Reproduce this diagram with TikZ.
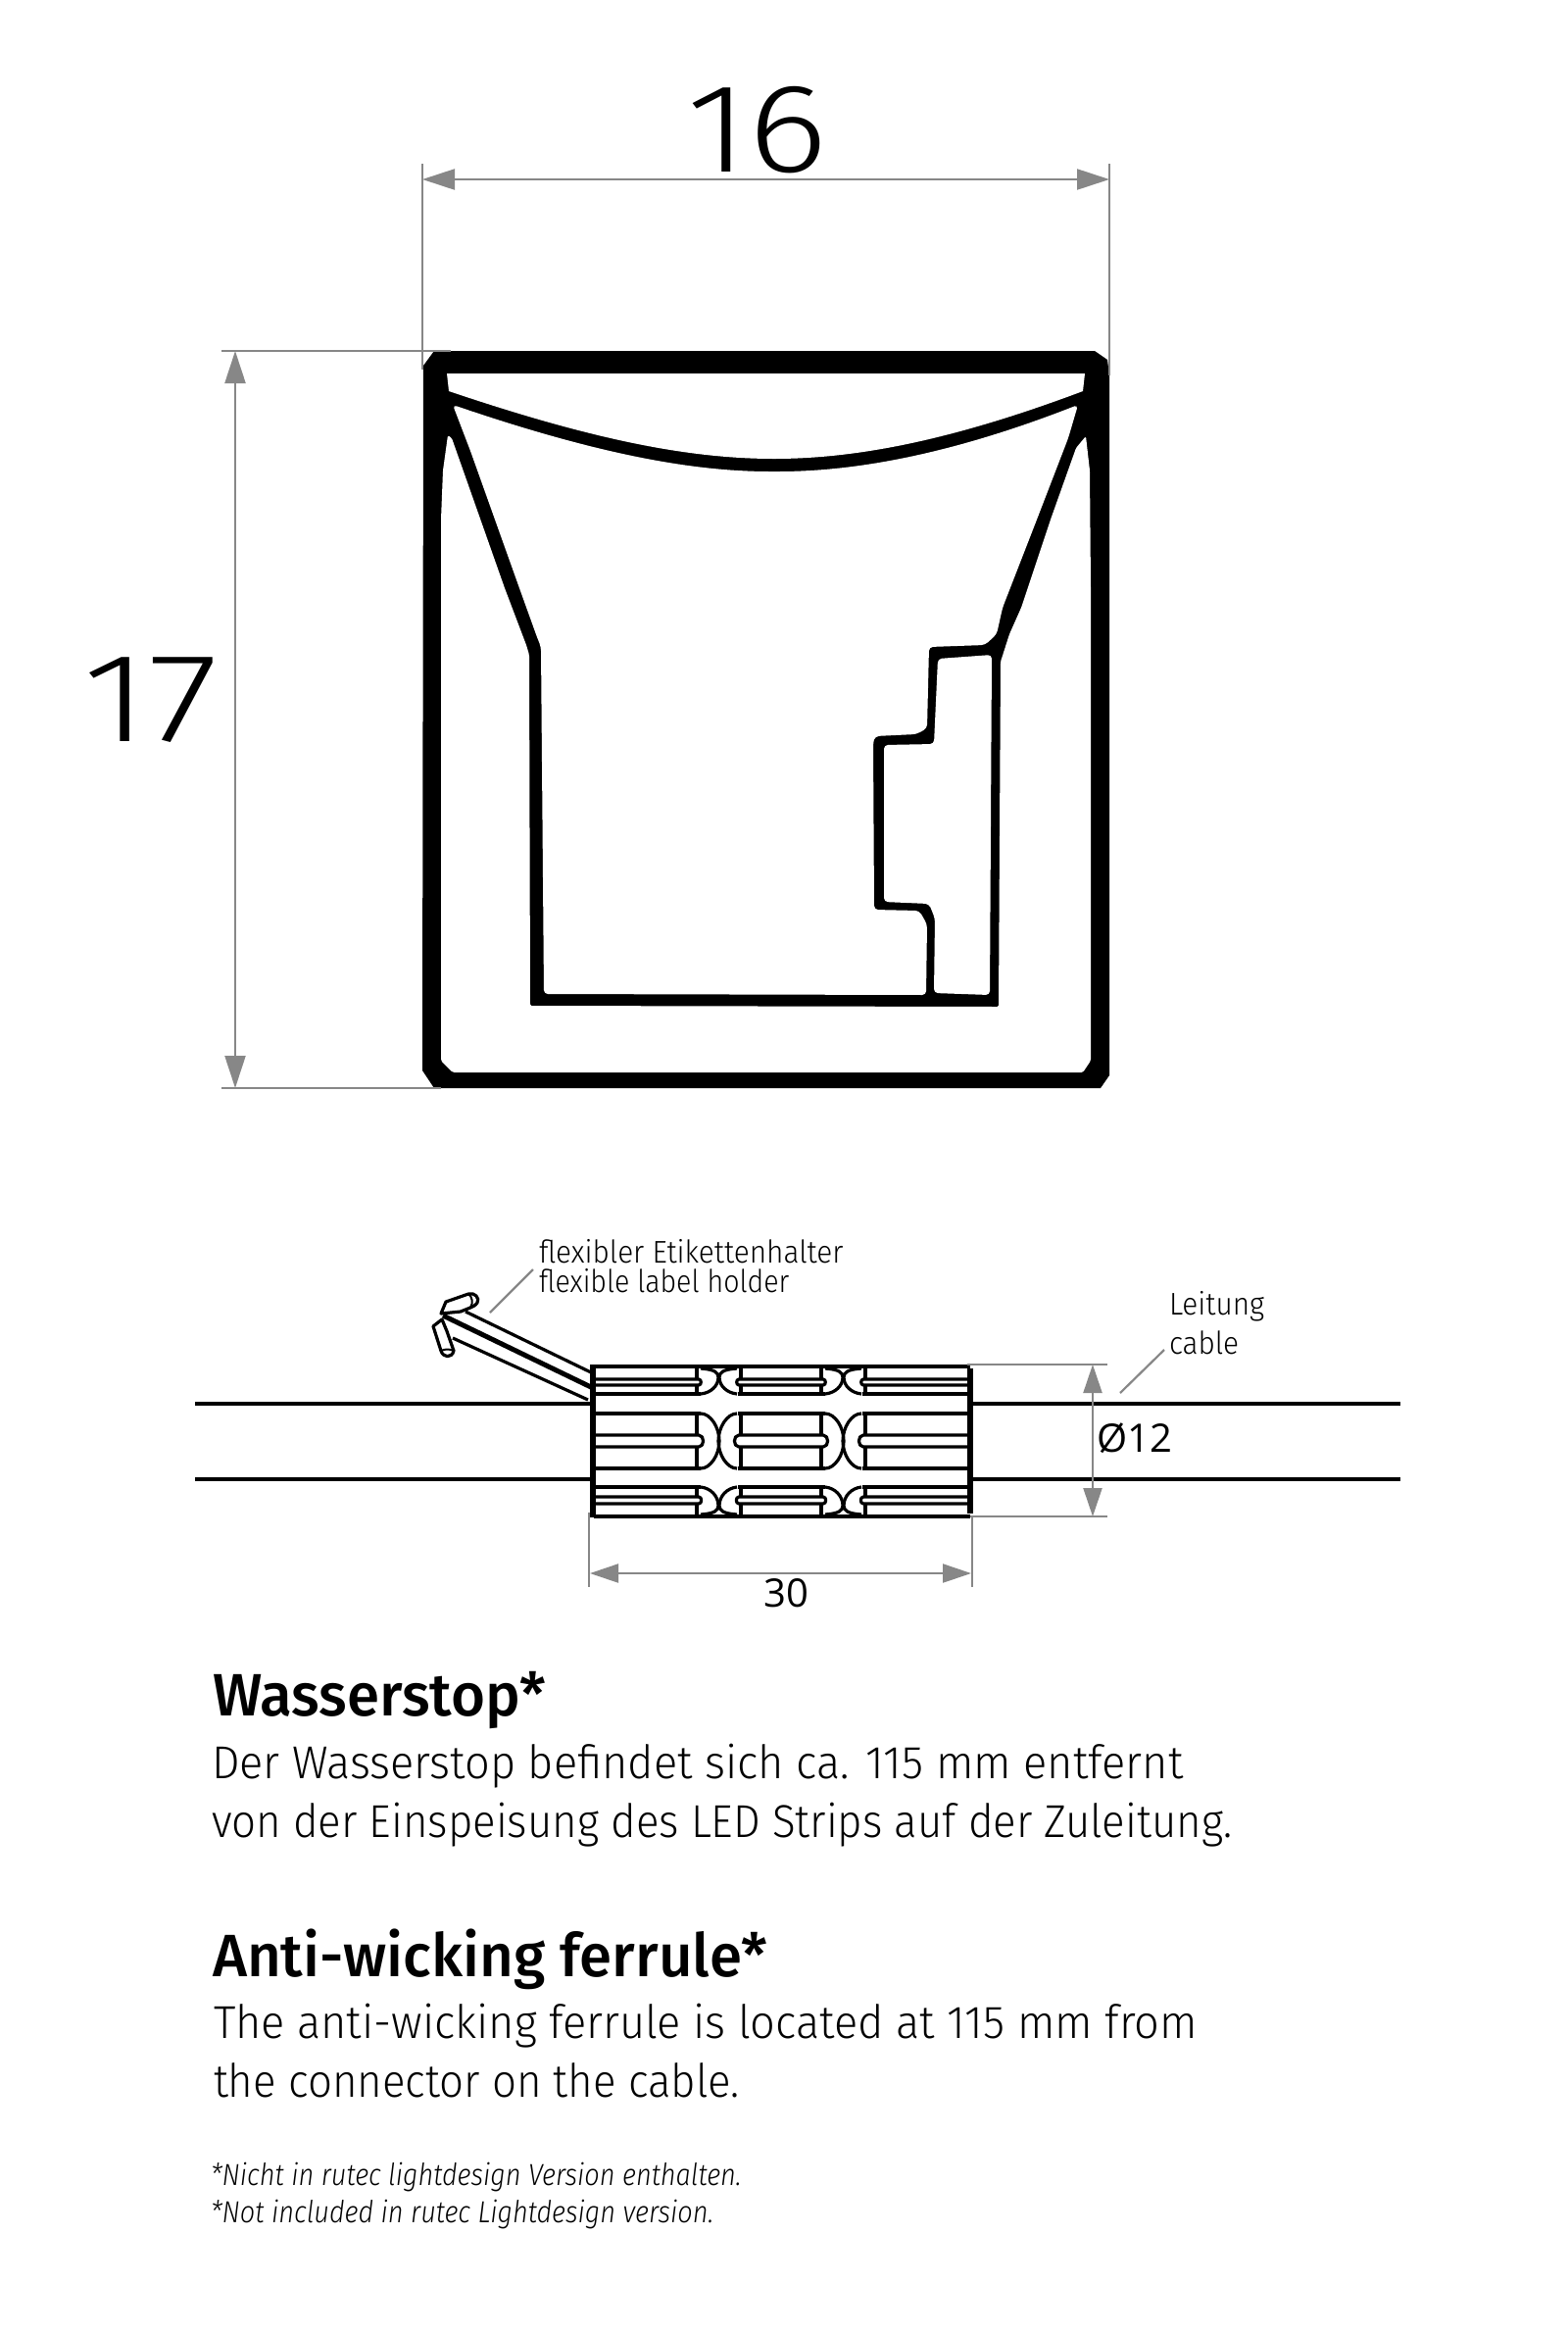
\documentclass[tikz,border=0pt]{standalone}
\usepackage{fontspec}
\usepackage{xcolor}
\usepackage{tikz}
\usetikzlibrary{arrows.meta}
\setmainfont{Fira Sans Light}
\newfontfamily\bigfont[FakeStretch=1.2]{Fira Sans Light}
\newfontfamily\tallfont[FakeStretch=1.27]{Fira Sans Light}
\newfontfamily\bodyfont[FakeStretch=0.96]{Fira Sans Light}
\newfontfamily\narrowfont[FakeStretch=0.932]{Fira Sans Light}
\newfontfamily\labelfont[FakeStretch=0.93]{Fira Sans Light}
\newfontfamily\holderfont[FakeStretch=0.893]{Fira Sans Light}
\newfontfamily\headfont[FakeStretch=0.985]{Fira Sans Medium}
\newfontfamily\notefont[FakeStretch=0.875]{Fira Sans Light Italic}
\newfontfamily\dimfont{Open Sans}
\definecolor{dimgray}{HTML}{878787}
\tikzset{
    dimline/.style={draw=dimgray, line width=2.2pt},
    bigdim/.style={dimline, {Triangle[length=33pt,width=21pt]}-{Triangle[length=33pt,width=21pt]}},
    smalldim/.style={dimline, {Triangle[length=29pt,width=19pt]}-{Triangle[length=29pt,width=19pt]}},
    caption/.style={anchor=base west, inner sep=0pt, outer sep=0pt},
    cableline/.style={line width=3.5pt},
    ferrule/.style={line width=3.2pt, line join=round},
}
\begin{document}
\begin{tikzpicture}[x=1pt, y=-1pt]
    \useasboundingbox (0,0) rectangle (1600,2380);

    % Profile
    \fill[black] (443,358) -- (1117,358) -- (1130,367) -- (1132,383) -- (1132,1097) -- (1123,1110) -- (443,1110) -- (431,1092) -- (432,373) -- cycle;
    \fill[white] (456,381) -- (1107,381) -- (1105,399) .. controls (980,446) and (880,468) .. (790,468) .. controls (700,468) and (600,447) .. (458,399) -- cycle;
    \fill[white, rounded corners=4pt] (462,413) .. controls (600,460) and (700,481) .. (790,481) .. controls (880,481) and (980,460) .. (1100,413) -- (1090,447) -- (1058,530) -- (1023,620) -- (1017,647) -- (1005,658) -- (948,660) -- (946,743) -- (935,749) -- (893,751) -- (891,757) -- (892,928) -- (938,929) -- (946,943) -- (945,1015) -- (555,1014) -- (552,660) -- (548,650) -- (530,600) -- (505,530) -- (480,460) -- cycle;
    \fill[white, rounded corners=4pt] (957,672) -- (1012,668) -- (1010,1015) -- (953,1013) -- (954,937) -- (948,922) -- (902,920) -- (902,760) -- (953,759) -- cycle;
    \fill[white, rounded corners=1.5pt] (457,444) -- (461,447) -- (515,600) -- (537,658) -- (540,668) -- (541,1026) -- (1019,1027) -- (1021,675) -- (1030,647) -- (1042,620) -- (1072,530) -- (1098,457) -- (1108,445) -- (1112,480) -- (1113,600) -- (1113,1082) -- (1105,1094) -- (462,1094) -- (450,1082) -- (450,600) -- (450,530) -- (452,480) -- cycle;

    % Width
    \coordinate (widthL) at (431,183);
    \coordinate (widthR) at (1132,183);
    \draw[dimline] (431,167) -- (431,377);
    \draw[dimline] (1132,167) -- (1132,383);
    \draw[bigdim] (widthL) -- (widthR);
    \node[caption, font=\bigfont\fontsize{129}{129}\selectfont] (width-label) at (700,175) {16};

    % Height
    \coordinate (heightT) at (240,358);
    \coordinate (heightB) at (240,1110);
    \draw[dimline] (226,358) -- (460,358);
    \draw[dimline] (226,1110) -- (450,1110);
    \draw[bigdim] (heightT) -- (heightB);
    \node[caption, font=\tallfont\fontsize{129}{129}\selectfont] (height-label) at (84,756) {17};

    % Cable
    \draw[cableline] (199,1432) -- (604,1432);
    \draw[cableline] (199,1509) -- (604,1509);
    \draw[cableline] (992,1432) -- (1429,1432);
    \draw[cableline] (992,1509) -- (1429,1509);

    % Holder
    \draw[line width=3.2pt] (475,1338) -- (603,1400);
    \draw[line width=5pt] (452,1342) -- (603,1415);
    \draw[line width=3.2pt] (462,1365) -- (600,1428);
    \draw[line width=3.2pt, line join=round, fill=white] (450,1340) -- (455,1328) -- (478,1320) .. controls (484,1318) and (490,1324) .. (487,1329) .. controls (485,1332) and (482,1333) .. (480,1334) -- (470,1338) -- cycle;
    \draw[line width=2pt] (478,1320) .. controls (482,1323) and (483,1329) .. (480,1334);
    \draw[line width=3.2pt, line join=round, fill=white] (451,1346) -- (442,1353) -- (450,1378) .. controls (452,1385) and (461,1386) .. (463,1378) -- (456,1358) -- cycle;
    \draw[line width=2pt] (450,1378) .. controls (454,1376) and (459,1376) .. (463,1378);

    % Ferrule
    \foreach \ya/\yb/\yc/\yd in {1394/1407/1413/1422, 1442/1464/1476/1498, 1517/1527/1534/1547} {
        \draw[ferrule] (606,\ya) -- (715,\ya) (753,\ya) -- (842,\ya) (880,\ya) -- (990,\ya);
        \draw[ferrule] (606,\yd) -- (715,\yd) (753,\yd) -- (842,\yd) (880,\yd) -- (990,\yd);
        \foreach \xc in {711,756,838,883} {
            \draw[ferrule] (\xc,\ya) -- (\xc,\yb) (\xc,\yc) -- (\xc,\yd);
        }
        \draw[ferrule] (606,\yb) -- (713,\yb) to[out=0, in=0, looseness=1.3] (713,\yc) -- (606,\yc);
        \draw[ferrule] (754,\yb) -- (840,\yb) to[out=0, in=0, looseness=1.3] (840,\yc) -- (754,\yc) to[out=180, in=180, looseness=1.3] cycle;
        \draw[ferrule] (990,\yb) -- (881,\yb) to[out=180, in=180, looseness=1.3] (881,\yc) -- (990,\yc);
    }
    \draw[ferrule] (715,1394) -- (880,1394) (715,1547) -- (880,1547);
    \foreach \xa/\xb in {711/756, 838/883} {
        \draw[ferrule] (\xa+4,1442) .. controls (\xa+14,1442) and (\xa+23,1456) .. (\xa+23,1470) .. controls (\xa+23,1484) and (\xa+14,1498) .. (\xa+4,1498);
        \draw[ferrule] (\xb-4,1442) .. controls (\xb-14,1442) and (\xb-23,1456) .. (\xb-23,1470) .. controls (\xb-23,1484) and (\xb-14,1498) .. (\xb-4,1498);
        \draw[ferrule] (\xa+4,1422) .. controls (\xa+14,1421) and (\xa+22,1414) .. (\xa+22,1405) .. controls (\xa+22,1400) and (\xa+18,1397) .. (\xa+4,1396);
        \draw[ferrule] (\xb-4,1422) .. controls (\xb-14,1421) and (\xb-22,1414) .. (\xb-22,1405) .. controls (\xb-22,1400) and (\xb-18,1397) .. (\xb-4,1396);
        \draw[ferrule] (\xa+4,1517) .. controls (\xa+14,1518) and (\xa+22,1526) .. (\xa+22,1536) .. controls (\xa+22,1541) and (\xa+18,1544) .. (\xa+4,1545);
        \draw[ferrule] (\xb-4,1517) .. controls (\xb-14,1518) and (\xb-22,1526) .. (\xb-22,1536) .. controls (\xb-22,1541) and (\xb-18,1544) .. (\xb-4,1545);
    }
    \draw[line width=5.5pt] (605,1392) -- (605,1548);
    \draw[line width=5.5pt] (990,1396) -- (990,1544);

    % Diameter
    \coordinate (diamT) at (1115,1392);
    \coordinate (diamB) at (1115,1547);
    \draw[dimline] (987,1392) -- (1130,1392);
    \draw[dimline] (990,1547) -- (1130,1547);
    \draw[smalldim] (diamT) -- (diamB);
    \node[caption, font=\dimfont\fontsize{40}{40}\selectfont] (diam-label) at (1119,1481) {Ø12};

    % Length
    \coordinate (lengthL) at (602,1605);
    \coordinate (lengthR) at (991,1605);
    \draw[dimline] (601,1543) -- (601,1619);
    \draw[dimline] (992,1547) -- (992,1619);
    \draw[smalldim] (lengthL) -- (lengthR);
    \node[anchor=base, inner sep=0pt, font=\dimfont\fontsize{40}{40}\selectfont] (length-label) at (802,1639) {30};

    % Leaders
    \coordinate (holderA) at (500,1339);
    \coordinate (holderB) at (544,1295);
    \coordinate (cableA) at (1143,1421);
    \coordinate (cableB) at (1188,1377);
    \draw[dimline] (holderA) -- (holderB);
    \draw[dimline] (cableA) -- (cableB);
    \node[caption, font=\labelfont\fontsize{32}{32}\selectfont] (holder-de) at (550,1288) {flexibler Etikettenhalter};
    \node[caption, font=\holderfont\fontsize{32}{32}\selectfont] (holder-en) at ([yshift=-30pt]holder-de.base west) {flexible label holder};
    \node[caption, font=\labelfont\fontsize{32}{32}\selectfont] (cable-de) at (1193,1341) {Leitung};
    \node[caption, font=\labelfont\fontsize{32}{32}\selectfont] (cable-en) at ([yshift=-40pt]cable-de.base west) {cable};

    % Text
    \node[caption, font=\headfont\fontsize{61}{61}\selectfont] (de-head) at (217,1750) {Wasserstop*};
    \node[caption, font=\bodyfont\fontsize{47}{47}\selectfont] (de-one) at (216,1814) {Der Wasserstop befindet sich ca. 115 mm entfernt};
    \node[caption, font=\narrowfont\fontsize{47}{47}\selectfont] (de-two) at ([yshift=-60pt]de-one.base west) {von der Einspeisung des LED Strips auf der Zuleitung.};
    \node[caption, font=\headfont\fontsize{61}{61}\selectfont] (en-head) at (217,2016) {Anti-wicking ferrule*};
    \node[caption, font=\bodyfont\fontsize{47}{47}\selectfont] (en-one) at (218,2079) {The anti-wicking ferrule is located at 115 mm from};
    \node[caption, font=\narrowfont\fontsize{47}{47}\selectfont] (en-two) at ([yshift=-60pt]en-one.base west) {the connector on the cable.};
    \node[caption, font=\notefont\fontsize{31}{31}\selectfont] (note-de) at (215,2229) {*Nicht in rutec lightdesign Version enthalten.};
    \node[caption, font=\notefont\fontsize{31}{31}\selectfont] (note-en) at ([yshift=-38pt]note-de.base west) {*Not included in rutec Lightdesign version.};
\end{tikzpicture}
\end{document}
